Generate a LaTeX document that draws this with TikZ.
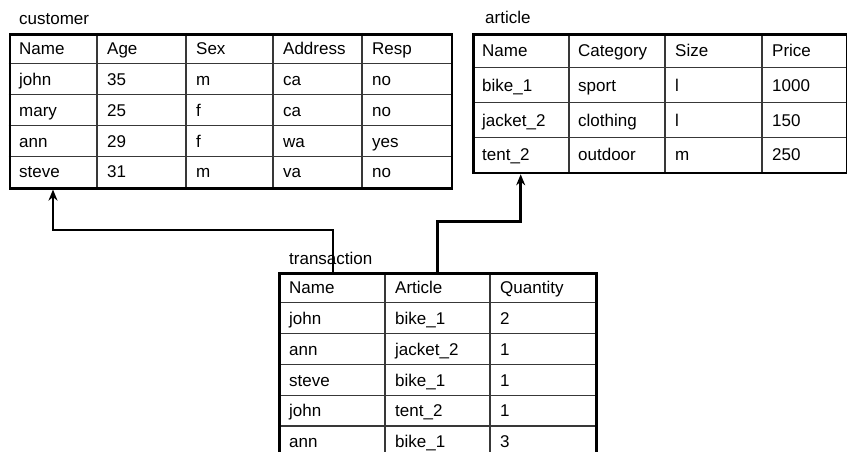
\documentclass[tikz,border=0pt]{standalone}
\usepackage{fontspec}
\setmainfont{Liberation Sans}
\usetikzlibrary{arrows.meta}
\begin{document}
\begin{tikzpicture}[x=1pt,y=-1pt,
  font=\fontsize{17}{20}\selectfont,
  outer/.style={draw=black, line width=2.6pt, inner sep=0pt, anchor=north west},
  inner/.style={draw=black!78, line width=1.2pt},
  txt/.style={anchor=base west, inner sep=0pt},
  ttl/.style={anchor=base west, inner sep=0pt},
  conn/.style={draw=black, line width=2.6pt, -{Stealth[length=11pt,width=9pt]}}]
\useasboundingbox (0,0) rectangle (847,452);

% ---------- customer ----------
\node[ttl] (custtitle) at (19,25) {customer};
\foreach \y in {63.8,94.6,125.4,156.2} \draw[inner] (8.5,\y) -- (450.5,\y);
\foreach \x in {97,186,273,362} \draw[inner] (\x,33) -- (\x,187);
\node[outer, minimum width=442pt, minimum height=154pt] (cust) at (8.5,33) {};
\foreach \a/\b/\c/\d/\e [count=\r from 0] in
  {Name/Age/Sex/Address/Resp,john/35/m/ca/no,mary/25/f/ca/no,ann/29/f/wa/yes,steve/31/m/va/no}{
  \pgfmathsetmacro\yb{33+30.8*\r+15.4+6.3}
  \node[txt] (cust-\r-1) at (19,\yb) {\a};
  \node[txt] (cust-\r-2) at (107,\yb) {\b};
  \node[txt] (cust-\r-3) at (196,\yb) {\c};
  \node[txt] (cust-\r-4) at (283,\yb) {\d};
  \node[txt] (cust-\r-5) at (372,\yb) {\e};
}

% ---------- article ----------
\node[ttl] (arttitle) at (485,24) {article};
\foreach \y in {67.9,102.5,137.1} \draw[inner] (472,\y) -- (846,\y);
\foreach \x in {569,665,762} \draw[inner] (\x,33.3) -- (\x,171.7);
\node[outer, minimum width=374pt, minimum height=138.4pt] (art) at (472,33.3) {};
\foreach \a/\b/\c/\d [count=\r from 0] in
  {Name/Category/Size/Price,bike\_1/sport/l/1000,jacket\_2/clothing/l/150,tent\_2/outdoor/m/250}{
  \pgfmathsetmacro\yb{33.3+34.6*\r+17.3+6.3}
  \node[txt] (art-\r-1) at (482,\yb) {\a};
  \node[txt] (art-\r-2) at (578,\yb) {\b};
  \node[txt] (art-\r-3) at (675,\yb) {\c};
  \node[txt] (art-\r-4) at (772,\yb) {\d};
}

% ---------- transaction ----------
\node[ttl] (transtitle) at (289,264) {transaction};
\foreach \y in {302.8,333.6,364.4,395.2,426} \draw[inner] (278,\y) -- (595,\y);
\foreach \x in {385,490} \draw[inner] (\x,272) -- (\x,460);
\node[outer, minimum width=317pt, minimum height=184.8pt] (trans) at (278,272) {};
\foreach \a/\b/\c [count=\r from 0] in
  {Name/Article/Quantity,john/bike\_1/2,ann/jacket\_2/1,steve/bike\_1/1,john/tent\_2/1,ann/bike\_1/3}{
  \pgfmathsetmacro\yb{272+30.8*\r+15.4+6.3}
  \node[txt] (trans-\r-1) at (289,\yb) {\a};
  \node[txt] (trans-\r-2) at (395,\yb) {\b};
  \node[txt] (trans-\r-3) at (500,\yb) {\c};
}

% ---------- connectors ----------
\draw[conn] ([xshift=55pt]trans.north west) -- ++(0,-42) -| ([xshift=44.5pt]cust.south west);
\draw[conn] ([xshift=159.3pt]trans.north west) -- ++(0,-50.3) -| ([xshift=48.7pt]art.south west);
\end{tikzpicture}
\end{document}
